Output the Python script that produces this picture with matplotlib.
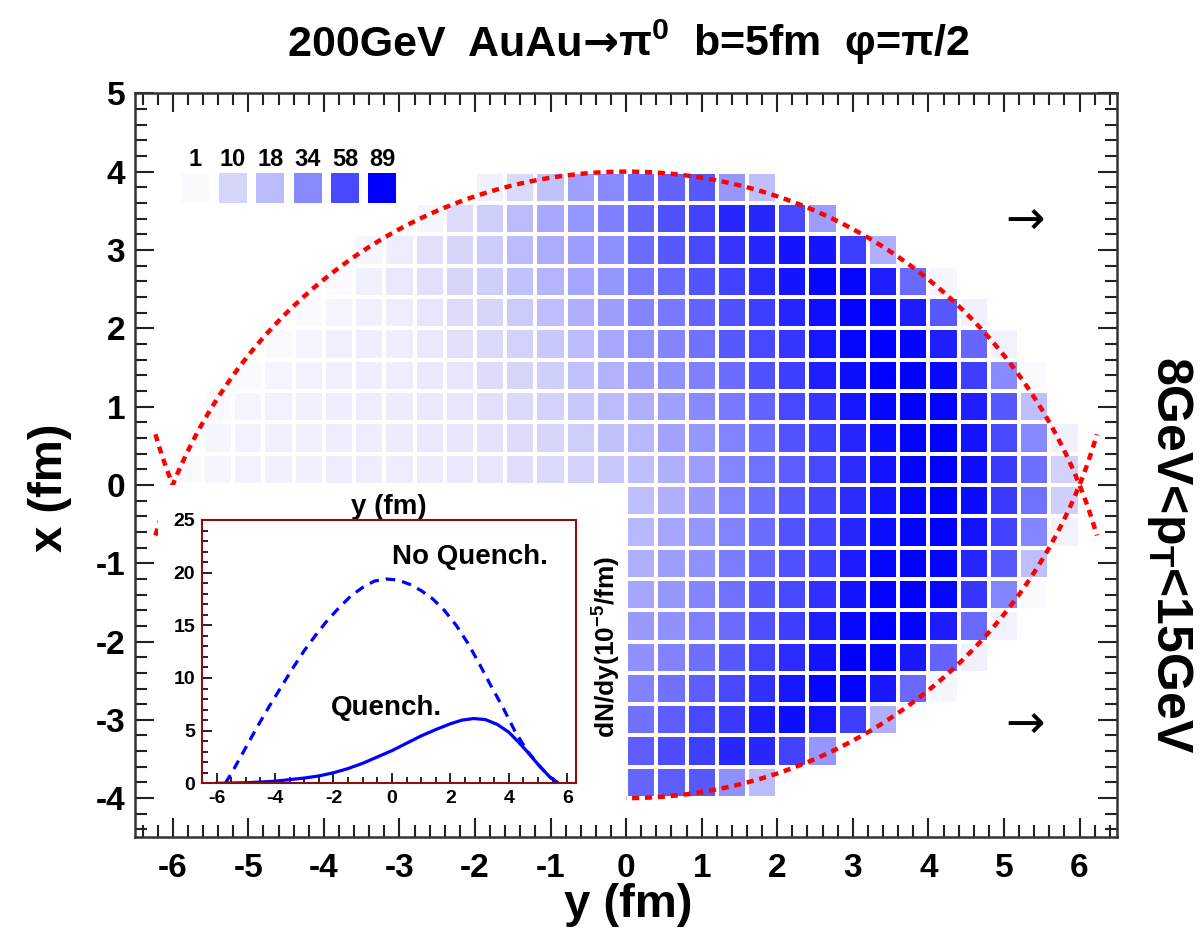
import numpy as np
import matplotlib
matplotlib.use('Agg')
import matplotlib.pyplot as plt
from matplotlib.colors import LinearSegmentedColormap, Normalize
from matplotlib.ticker import MultipleLocator
from matplotlib.patches import Rectangle
from matplotlib.offsetbox import TextArea, HPacker, AnchoredOffsetbox

plt.rcParams['font.family'] = ['Liberation Sans', 'DejaVu Sans']
plt.rcParams['font.weight'] = 'bold'
plt.rcParams['axes.unicode_minus'] = False
plt.rcParams['mathtext.fontset'] = 'custom'
plt.rcParams['mathtext.rm'] = 'Liberation Sans:bold'
plt.rcParams['mathtext.bf'] = 'Liberation Sans:bold'
plt.rcParams['mathtext.it'] = 'Liberation Sans:bold'
plt.rcParams['mathtext.default'] = 'bf'

_ = np.nan

# bins of the 2D map (fm)
y_edges = np.arange(-6.0, 6.01, 0.4)
x_edges = np.arange(-4.0, 4.01, 0.4)

# cell contents, one list per row, from x=3.8 (top) down to x=-3.8
row_p38 = [_]*10 + [3, 9, 16, 27, 34, 45, 48, 52, 30, 17] + [_]*10
row_p34 = [_]*8 + [2, 8, 12, 18, 24, 30, 38, 47, 55, 60, 72, 72, 58, 28] + [_]*8
row_p30 = [_]*6 + [1.5, 4, 7, 10, 13, 18, 23, 28, 33, 45, 52, 58, 66, 73, 80, 80, 62, 22] + [_]*6
row_p26 = [_]*5 + [1, 3, 5, 7, 10, 12, 16, 20, 25, 30, 40, 46, 54, 60, 70, 80, 86, 86, 75, 46, 1.5] + [_]*4
row_p22 = [_]*4 + [1, 2, 3, 4, 6, 8, 10, 13, 17, 22, 28, 36, 40, 48, 55, 62, 73, 82, 88, 87, 77, 52, 3] + [_]*3
row_p18 = [_]*3 + [1, 2, 3, 3.5, 4, 5, 7, 9, 11, 14, 18, 24, 31, 36, 43, 52, 58, 66, 79, 86, 89, 87, 75, 47, 2.5] + [_]*2
row_p14 = [_]*2 + [1, 2, 2.5, 3, 3.5, 4, 5, 6, 8, 10, 12, 16, 21, 28, 32, 38, 45, 55, 62, 75, 83, 89, 89, 85, 62, 34, 1] + [_]
row_p10 = [_] + [1, 2, 2.5, 3, 3.5, 4, 4.5, 5, 6, 7, 9, 11, 14, 18, 22, 27, 34, 40, 48, 58, 66, 79, 86, 89, 88, 75, 52, 17] + [_]
row_p06 = [_] + [1.5, 2.5, 3, 3, 3.5, 4, 4.5, 5, 5.5, 6.5, 8, 10, 12.5, 16, 19, 26, 30, 37, 44, 54, 62, 73, 83, 88, 89, 81, 58, 35, 3]
row_p02 = [1, 2, 2.5, 3, 3, 3.5, 4, 4, 4.5, 5, 6, 7.5, 9, 11, 14, 17, 22, 28, 36, 43, 50, 58, 70, 81, 87, 89, 83, 64, 44, 11]
row_m02 = [_]*15 + [17, 22, 29, 37, 44, 52, 59, 70, 81, 86, 89, 84, 64, 43, 12]
row_m06 = [_]*15 + [19, 25, 30, 37, 45, 54, 60, 72, 83, 88, 89, 81, 60, 36, 2.5]
row_m10 = [_]*15 + [22, 28, 32, 39, 47, 55, 62, 77, 86, 89, 87, 73, 52, 17, _]
row_m14 = [_]*15 + [25, 30, 36, 43, 52, 58, 68, 80, 88, 89, 86, 66, 36, 1, _]
row_m18 = [_]*15 + [29, 32, 38, 45, 55, 62, 75, 85, 89, 88, 77, 46, 2.5, _, _]
row_m22 = [_]*15 + [32, 37, 44, 52, 60, 70, 81, 89, 87, 78, 48, 3, _, _, _]
row_m26 = [_]*15 + [37, 43, 50, 58, 68, 79, 86, 88, 78, 46, 1.5, _, _, _, _]
row_m30 = [_]*15 + [43, 50, 58, 64, 77, 83, 81, 62, 22] + [_]*6
row_m34 = [_]*15 + [50, 56, 62, 72, 72, 60, 30] + [_]*8
row_m38 = [_]*15 + [47, 50, 52, 32, 18] + [_]*10

# colour key
key_values = [1, 10, 18, 34, 58, 89]
key_colors = ['#F8F8FF', '#D5D5FA', '#BBBBFD', '#8A8AFF', '#4848FF', '#0000FF']

# nuclei: impact parameter and Au radius (fm)
b = 5.0
R_au = 6.5

# inset dN/dy curves (10^-5 / fm)
noq_y = [-5.7, -5.4, -5.0, -4.6, -4.2, -3.8, -3.4, -3.0, -2.6, -2.2, -1.8, -1.4, -1.0, -0.6, -0.2,
         0.2, 0.6, 1.0, 1.4, 1.8, 2.2, 2.6, 3.0, 3.4, 3.8, 4.2, 4.6, 5.0, 5.4, 5.7]
noq_v = [0.0, 1.4, 3.4, 5.4, 7.3, 9.1, 10.9, 12.6, 14.1, 15.5, 16.7, 17.8, 18.6, 19.2, 19.4,
         19.3, 18.9, 18.3, 17.5, 16.4, 15.0, 13.3, 11.3, 9.2, 7.2, 5.0, 3.2, 1.8, 0.6, 0.0]
q_y = [-6.0, -5.0, -4.5, -4.0, -3.5, -3.0, -2.5, -2.0, -1.5, -1.0, -0.5, 0.0, 0.5, 1.0, 1.5,
       2.0, 2.4, 2.8, 3.2, 3.6, 4.0, 4.3, 4.6, 5.0, 5.4, 5.7]
q_v = [0.0, 0.05, 0.12, 0.2, 0.35, 0.5, 0.7, 1.0, 1.4, 1.9, 2.5, 3.1, 3.8, 4.5, 5.1,
       5.65, 6.0, 6.15, 6.05, 5.6, 4.85, 4.0, 3.1, 1.8, 0.6, 0.0]

grid = np.array([row_p38, row_p34, row_p30, row_p26, row_p22, row_p18, row_p14, row_p10, row_p06, row_p02,
                 row_m02, row_m06, row_m10, row_m14, row_m18, row_m22, row_m26, row_m30, row_m34, row_m38])[::-1]

nodes = [0.0] + [v / 89 for v in key_values]
cmap = LinearSegmentedColormap.from_list('wb', list(zip(nodes, ['#FFFFFF'] + key_colors)))
norm = Normalize(0, 89)

fig = plt.figure(figsize=(12, 9.48), dpi=100)
ax = fig.add_axes([135/1200, 1-837.3/948, 982.3/1200, 744/948])

ax.pcolormesh(y_edges, x_edges, np.ma.masked_invalid(grid), cmap=cmap, norm=norm,
              edgecolors='white', linewidth=1.5, zorder=1)

ys = np.linspace(-6.23, 6.23, 300)
ax.plot(ys, -b/2 + np.sqrt(R_au**2 - ys**2), color='red', lw=3.2, ls=(0, (1.6, 1.3)), zorder=2)
ax.plot(ys, b/2 - np.sqrt(R_au**2 - ys**2), color='red', lw=3.2, ls=(0, (1.6, 1.3)), zorder=2)

# colour key boxes
key_pos = -5.70 + 0.495*np.arange(len(key_values))
ax.bar(key_pos, 0.38, bottom=3.60, width=0.37, color=cmap(norm(key_values)), zorder=2)
for p, v in zip(key_pos, key_values):
    ax.text(p, 4.16, str(v), ha='center', va='center', fontsize=17, fontweight='bold')

ax.text(5.28, 3.36, '→', ha='center', va='center', fontsize=34, fontweight='normal', family='DejaVu Sans')
ax.text(5.28, -3.07, '→', ha='center', va='center', fontsize=34, fontweight='normal', family='DejaVu Sans')

# white pad behind the inset
ax.add_patch(Rectangle((-6.2, -4.25), 6.2, 4.25, facecolor='white', edgecolor='none', zorder=3))

ax.set_xlim(-6.5, 6.5)
ax.set_ylim(-4.5, 5.0)
ax.xaxis.set_major_locator(MultipleLocator(1))
ax.xaxis.set_minor_locator(MultipleLocator(0.2))
ax.yaxis.set_major_locator(MultipleLocator(1))
ax.yaxis.set_minor_locator(MultipleLocator(0.2))
ax.tick_params(which='both', direction='in', top=True, right=True, width=1.5, color='#222222')
ax.tick_params(which='major', length=14, labelsize=24, pad=11)
ax.tick_params(which='minor', length=8.5)
ax.tick_params(axis='y', pad=7)
for lab in ax.get_xticklabels() + ax.get_yticklabels():
    lab.set_fontweight('bold')
for s in ax.spines.values():
    s.set_linewidth(1.8)
    s.set_color('#333333')

# title, with the arrow taken from DejaVu Sans
tprops = dict(fontsize=31, fontweight='bold')
title_box = HPacker(children=[TextArea('200GeV  AuAu', textprops=tprops),
                              TextArea('→', textprops=dict(fontsize=31, family='DejaVu Sans')),
                              TextArea('π$^0$  b=5fm  φ=π/2', textprops=tprops)],
                    align='baseline', pad=0, sep=0)
fig.add_artist(AnchoredOffsetbox(loc='center', child=title_box, frameon=False, pad=0, borderpad=0,
                                 bbox_to_anchor=(629/1200, 1-42/948), bbox_transform=fig.transFigure))

fig.text(628/1200, 1-905/948, 'y (fm)', ha='center', va='center', fontsize=34, fontweight='bold')
fig.text(50/1200, 1-488/948, 'x (fm)', ha='center', va='center', fontsize=34, fontweight='bold', rotation=90)
fig.text(1170/1200, 1-555/948, '8GeV<p$_T$<15GeV', ha='center', va='center', fontsize=36, fontweight='bold', rotation=-90)

# inset
ins = fig.add_axes([202/1200, 1-783.3/948, 374/1200, 263.3/948])
ins.plot(noq_y, noq_v, color='blue', lw=2.3, ls=(0, (3, 2.2)))
ins.plot(q_y, q_v, color='blue', lw=2.3)
ins.text(0.0, 21.5, 'No Quench.', ha='left', va='center', fontsize=20, fontweight='bold')
ins.text(-2.1, 7.15, 'Quench.', ha='left', va='center', fontsize=20, fontweight='bold')
ins.set_xlim(-6.5, 6.3)
ins.set_ylim(0, 25)
ins.xaxis.set_major_locator(MultipleLocator(2))
ins.xaxis.set_minor_locator(MultipleLocator(0.5))
ins.yaxis.set_major_locator(MultipleLocator(5))
ins.yaxis.set_minor_locator(MultipleLocator(1))
ins.tick_params(which='both', direction='in', width=1.2)
ins.tick_params(which='major', length=7, labelsize=14, pad=5)
ins.tick_params(which='minor', length=4)
for lab in ins.get_xticklabels() + ins.get_yticklabels():
    lab.set_fontweight('bold')
for s in ins.spines.values():
    s.set_color('#8B1010')
    s.set_linewidth(1.5)
ins.xaxis.set_label_position('top')
ins.set_xlabel('y (fm)', fontsize=20, fontweight='bold', labelpad=4)
ins.text(1.083, 0.52, 'dN/dy(10$^{-5}$/fm)', transform=ins.transAxes, rotation=90,
         ha='center', va='center', fontsize=19, fontweight='bold')

fig.savefig('out.png', dpi=100)
